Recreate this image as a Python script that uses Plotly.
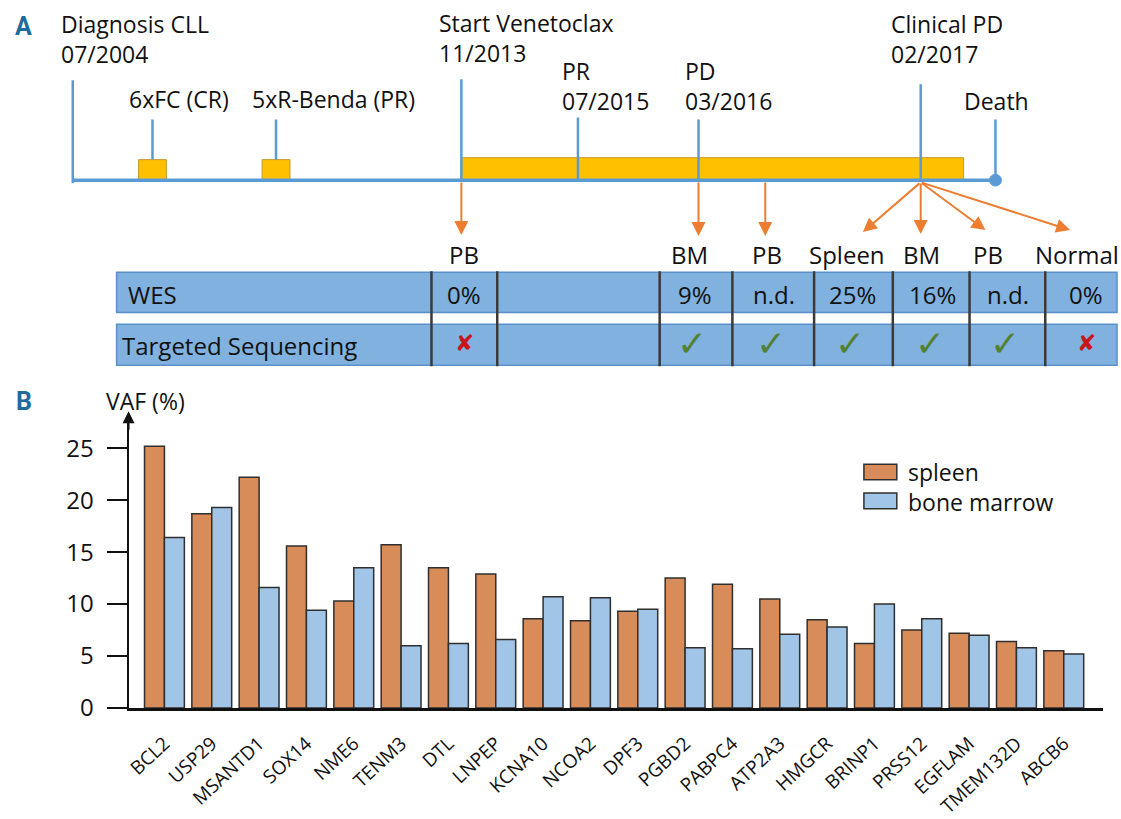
import plotly.graph_objects as go

W, H = 1121, 819

# ---------------- data (panel B) ----------------
genes = ["BCL2", "USP29", "MSANTD1", "SOX14", "NME6", "TENM3", "DTL", "LNPEP",
         "KCNA10", "NCOA2", "DPF3", "PGBD2", "PABPC4", "ATP2A3", "HMGCR",
         "BRINP1", "PRSS12", "EGFLAM", "TMEM132D", "ABCB6"]
spleen = [25.2, 18.7, 22.2, 15.6, 10.3, 15.7, 13.5, 12.9, 8.6, 8.4,
          9.3, 12.5, 11.9, 10.5, 8.5, 6.2, 7.5, 7.2, 6.4, 5.5]
bone_marrow = [16.4, 19.3, 11.6, 9.4, 13.5, 6.0, 6.2, 6.6, 10.7, 10.6,
               9.5, 5.8, 5.7, 7.1, 7.8, 10.0, 8.6, 7.0, 5.8, 5.2]
y_ticks = [0, 5, 10, 15, 20, 25]
series_names = ["spleen", "bone marrow"]

# ---------------- data (panel A) ----------------
event_labels = ["Diagnosis CLL<br>07/2004", "Start Venetoclax<br>11/2013", "PR<br>07/2015",
                "PD<br>03/2016", "Clinical PD<br>02/2017", "Death"]
treatment_labels = ["6xFC (CR)", "5xR-Benda (PR)"]
sample_labels = ["PB", "BM", "PB", "Spleen", "BM", "PB", "Normal"]
wes_values = ["0%", "9%", "n.d.", "25%", "16%", "n.d.", "0%"]
targeted_done = [False, True, True, True, True, True, False]
row_labels = ["WES", "Targeted Sequencing"]

# ---------------- layout positions (pixels) ----------------
event_x = [69, 459, 576, 697, 920, 995]
event_line_top = [82, 81, 120, 122, 86, 122]
event_text_x = [55, 435, 558, 681, 888, 961]
event_text_y = [40, 39, 88, 88, 40, 103]
treat_x = [149, 273]
treat_text_x = [123, 247]
sample_label_x = [462, 688, 766, 846, 921, 988, 1077]
arrow_tails = [(459, 186), (697, 186), (764, 186), (920, 187), (920, 187), (920, 187), (920, 187)]
arrow_heads = [(459, 240), (697, 241), (764, 241), (862, 237), (920, 239), (985, 235), (1070, 235)]
col_sep = [429, 495, 658, 731, 813, 892, 969, 1045]
cell_x = [462, 693, 773, 852, 932, 1008, 1086]

BLUE = "#5b9bd5"
ORANGE = "#ed7d31"
YELLOW = "#ffc000"
SPLEEN_C = "#d78c5a"
BM_C = "#a1c5e7"
TFONT = "Open Sans, Noto Sans, sans-serif"


def X(p):
    return p / W


def Y(p):
    return 1 - p / H


fig = go.Figure()
fig.add_trace(go.Bar(x=genes, y=spleen, name=series_names[0],
                     marker=dict(color=SPLEEN_C, line=dict(color="#2f2f2f", width=1.5))))
fig.add_trace(go.Bar(x=genes, y=bone_marrow, name=series_names[1],
                     marker=dict(color=BM_C, line=dict(color="#2f2f2f", width=1.5))))

shapes = []
ann = []


def rect(x0, y0, x1, y1, fill, line, lw=1):
    shapes.append(dict(type="rect", xref="paper", yref="paper", x0=X(x0), x1=X(x1),
                       y0=Y(y1), y1=Y(y0), fillcolor=fill, line=dict(color=line, width=lw)))


def seg(x0, y0, x1, y1, color, lw):
    shapes.append(dict(type="line", xref="paper", yref="paper", x0=X(x0), x1=X(x1),
                       y0=Y(y0), y1=Y(y1), line=dict(color=color, width=lw)))


# ---- panel A: timeline ----
rect(135, 163, 163, 184, YELLOW, "#c99a2e", 1)
rect(259, 163, 287, 184, YELLOW, "#c99a2e", 1)
rect(459, 161, 963, 184, YELLOW, "#c99a2e", 1)
for x, top in zip(event_x, event_line_top):
    seg(x, top, x, 187 if x == 69 else 184, BLUE, 2.5)
for x in treat_x:
    seg(x, 122, x, 163, BLUE, 2.5)
seg(69, 184, 995, 184, BLUE, 3.5)
shapes.append(dict(type="circle", xref="paper", yref="paper", x0=X(989), x1=X(1001),
                   y0=Y(190), y1=Y(178), fillcolor=BLUE, line=dict(color=BLUE, width=1)))

for txt, x, y in zip(event_labels, event_text_x, event_text_y):
    ann.append(dict(text=txt, x=X(x), y=Y(y), xref="paper", yref="paper", showarrow=False,
                    xanchor="left", yanchor="middle", align="left",
                    font=dict(family=TFONT, size=23, color="#111")))
for txt, x in zip(treatment_labels, treat_text_x):
    ann.append(dict(text=txt, x=X(x), y=Y(101), xref="paper", yref="paper", showarrow=False,
                    xanchor="left", yanchor="middle", font=dict(family=TFONT, size=23, color="#111")))

for (tx, ty), (hx, hy) in zip(arrow_tails, arrow_heads):
    ann.append(dict(text="", x=X(hx), y=Y(hy), xref="paper", yref="paper", showarrow=True,
                    axref="pixel", ayref="pixel", ax=tx - hx, ay=ty - hy,
                    arrowhead=2, arrowsize=1.4, arrowwidth=2, arrowcolor=ORANGE, standoff=0))

for txt, x in zip(sample_labels, sample_label_x):
    ann.append(dict(text=txt, x=X(x), y=Y(260), xref="paper", yref="paper", showarrow=False,
                    xanchor="center", yanchor="middle", font=dict(family=TFONT, size=24, color="#111")))

# table
rect(113, 278, 1117, 319, "#80b1df", "#5a8fc8", 1.5)
rect(113, 331, 1117, 373, "#80b1df", "#5a8fc8", 1.5)
for x in col_sep:
    seg(x, 277, x, 374, "#3a3a3a", 2.5)
ann.append(dict(text=row_labels[0], x=X(122), y=Y(301), xref="paper", yref="paper", showarrow=False,
                xanchor="left", yanchor="middle", font=dict(family=TFONT, size=24, color="#111")))
ann.append(dict(text=row_labels[1], x=X(116), y=Y(353), xref="paper", yref="paper", showarrow=False,
                xanchor="left", yanchor="middle", font=dict(family=TFONT, size=24, color="#111")))
for txt, x in zip(wes_values, cell_x):
    ann.append(dict(text=txt, x=X(x), y=Y(301), xref="paper", yref="paper", showarrow=False,
                    xanchor="center", yanchor="middle", font=dict(family=TFONT, size=24, color="#111")))
for done, x in zip(targeted_done, cell_x):
    if done:
        ann.append(dict(text="✓", x=X(x - 3), y=Y(351), xref="paper", yref="paper", showarrow=False,
                        xanchor="center", yanchor="middle",
                        font=dict(family="DejaVu Sans", size=36, color="#548235")))
    else:
        ann.append(dict(text="✘", x=X(x), y=Y(350), xref="paper", yref="paper", showarrow=False,
                        xanchor="center", yanchor="middle",
                        font=dict(family="DejaVu Sans", size=23, color="#c8161d")))

# panel letters
for txt, y in [("A", 27), ("B", 410)]:
    ann.append(dict(text="<b>" + txt + "</b>", x=X(20), y=Y(y), xref="paper", yref="paper",
                    showarrow=False, xanchor="center", yanchor="middle",
                    font=dict(family="Roboto, Liberation Sans", size=25, color="#1d6c9c")))

# ---- panel B extras ----
ann.append(dict(text="VAF (%)", x=X(100), y=Y(410), xref="paper", yref="paper", showarrow=False,
                xanchor="left", yanchor="middle", font=dict(family=TFONT, size=23, color="#111")))
ann.append(dict(text="", x=X(125), y=Y(420), xref="paper", yref="paper", showarrow=True,
                axref="pixel", ayref="pixel", ax=0, ay=20, arrowhead=2, arrowsize=1.2,
                arrowwidth=2, arrowcolor="#111", standoff=0))
# legend (drawn manually to match wide swatches)
for i, col in enumerate([SPLEEN_C, BM_C]):
    yc = 482 + 29.5 * i
    rect(863, yc - 8, 896, yc + 8, col, "#2f2f2f", 1.5)
ann.append(dict(text="<br>".join(series_names), x=X(905), y=Y(497), xref="paper", yref="paper",
                showarrow=False, xanchor="left", yanchor="middle", align="left",
                font=dict(family=TFONT, size=23, color="#111")))

fig.update_layout(
    width=W, height=H, margin=dict(l=0, r=0, t=0, b=0),
    paper_bgcolor="white", plot_bgcolor="white",
    barmode="group", bargap=0.158, bargroupgap=0,
    showlegend=False,
    font=dict(family=TFONT, color="#111"),
    shapes=shapes, annotations=ann,
    xaxis=dict(domain=[X(125), X(1103)], range=[-0.758, 19.83], showline=True, linewidth=3,
               linecolor="#111", ticks="", tickangle=-43, showgrid=False, zeroline=False,
               ticklabelstandoff=14,
               tickfont=dict(family=TFONT, size=19, color="#111")),
    yaxis=dict(domain=[Y(723), Y(428)], range=[0, 27.8], showline=True, linewidth=2,
               linecolor="#111", ticks="outside", ticklen=20, tickwidth=2, tickcolor="#111",
               tickvals=y_ticks, showgrid=False, zeroline=False, ticklabelstandoff=8,
               tickfont=dict(family=TFONT, size=24, color="#111")),
)

fig.write_html("out.html", config={"displayModeBar": False},
               post_script="document.body.style.margin='0px';document.body.style.overflow='hidden';")
